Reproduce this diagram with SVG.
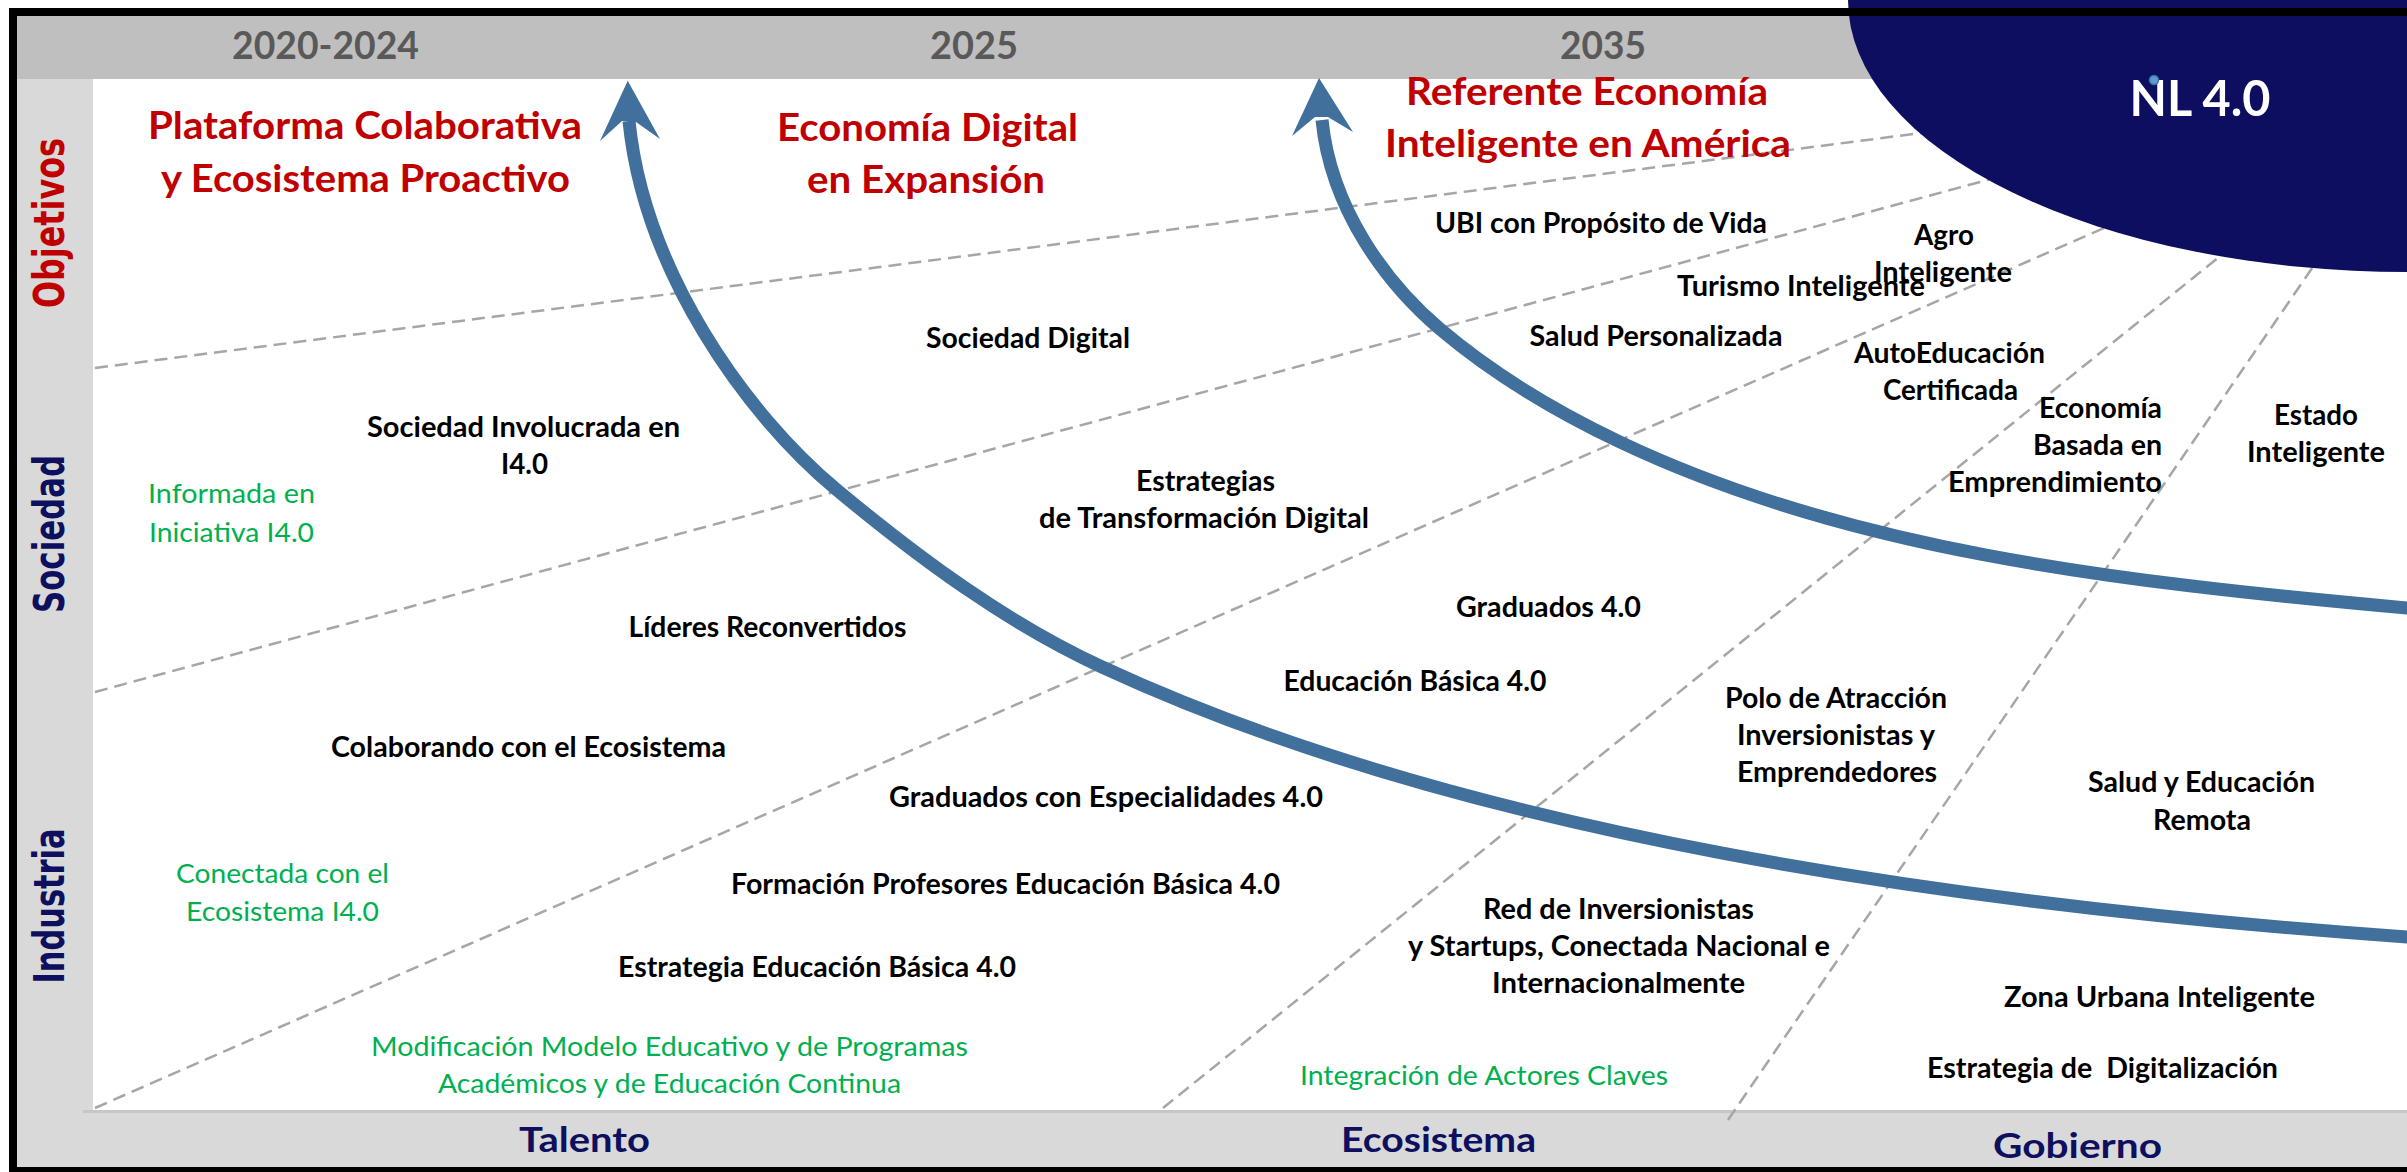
<svg xmlns="http://www.w3.org/2000/svg" width="2407" height="1172" viewBox="0 0 2407 1172">
<defs>
<style>
text{font-family:Lato,"Open Sans","Liberation Sans",sans-serif;}
.yr{font-size:38.3px;font-weight:700;fill:#595959;text-anchor:middle;}
.ttl{font-size:38.3px;font-weight:700;fill:#c00000;text-anchor:middle;}
.lbl{font-size:27.6px;font-weight:700;fill:#000;text-anchor:middle;}
.lbr{font-size:27.6px;font-weight:700;fill:#000;text-anchor:end;}
.grn{font-size:27.6px;font-weight:400;fill:#00b050;text-anchor:middle;}
.axis{font-size:35px;font-weight:700;fill:#0e0f5f;text-anchor:middle;}
.side{font-family:"DejaVu Sans",Verdana,sans-serif;font-size:42px;font-weight:700;text-anchor:middle;}
.grid line{stroke:#a6a6a6;stroke-width:2.5;stroke-dasharray:13 7;fill:none;}
.arc{fill:none;stroke:#41709c;stroke-width:13;}
.head{fill:#41709c;}
</style>
</defs>
<rect x="0" y="0" width="2407" height="1172" fill="#ffffff"/>
<g id="background">
<rect x="17" y="16" width="2390" height="63" fill="#bfbfbf"/>
<rect x="17" y="79" width="76" height="1090" fill="#d9d9d9"/>
<rect x="17" y="1110" width="2390" height="58" fill="#d9d9d9"/>
<line x1="83" y1="1111.5" x2="2407" y2="1111.5" stroke="#c6c6c6" stroke-width="3"/>
</g>
<g id="grid" class="grid">
<line x1="95" y1="368" x2="2100" y2="110"/>
<line x1="95" y1="692" x2="2150" y2="136"/>
<line x1="95" y1="1108" x2="2200" y2="186"/>
<line x1="1163" y1="1108" x2="2260" y2="224"/>
<line x1="1728" y1="1120" x2="2330" y2="242"/>
</g>
<g id="nl40">
<ellipse cx="2408" cy="0" rx="560" ry="272" fill="#0d0e5f"/>
<text x="2200" y="116" style="font-size:50px;font-weight:700;fill:#ffffff;text-anchor:middle" textLength="141" lengthAdjust="spacingAndGlyphs">NL 4.0</text>
<circle cx="2154" cy="80" r="4.5" fill="#5b9bd5" stroke="#41719c" stroke-width="1.5"/>
</g>
<g id="frame" fill="#000">
<rect x="9" y="8" width="2398" height="8"/>
<rect x="9" y="8" width="8" height="1164"/>
<rect x="9" y="1167" width="2398" height="5"/>
</g>
<g id="connectors">
<path class="arc" d="M2420,938 L2407,937 C1958.8,905.5 1464.8,835 1102,667 C1005.7,622.4 918.6,557.8 837,490 C744.6,413.2 644,270.3 629,121"/>
<polygon class="head" points="627.7,80.7 660,139 636,122 622,121 600,141"/>
<path class="arc" d="M2420,609 L2407,608 C2108.2,581 1845.8,549.3 1620,442 C1556.1,411.6 1494,374.8 1440,329 C1386.7,283.7 1331,209.6 1322,120"/>
<polygon class="head" points="1319,78 1353,132 1328,117 1315,117 1292,136"/>
</g>
<g id="years">
<text class="yr" x="325.5" y="59" textLength="187" lengthAdjust="spacingAndGlyphs">2020-2024</text>
<text class="yr" x="974" y="59" textLength="88" lengthAdjust="spacingAndGlyphs">2025</text>
<text class="yr" x="1603" y="59" textLength="86" lengthAdjust="spacingAndGlyphs">2035</text>
</g>
<g id="side-labels">
<text class="side" fill="#c00000" transform="translate(64,223) rotate(-90)" textLength="170" lengthAdjust="spacingAndGlyphs">Objetivos</text>
<text class="side" fill="#0e0f5f" transform="translate(64,534) rotate(-90)" textLength="158" lengthAdjust="spacingAndGlyphs">Sociedad</text>
<text class="side" fill="#0e0f5f" transform="translate(64,906) rotate(-90)" textLength="155" lengthAdjust="spacingAndGlyphs">Industria</text>
</g>
<g id="axis-labels">
<text class="axis" x="584.5" y="1152" textLength="131" lengthAdjust="spacingAndGlyphs">Talento</text>
<text class="axis" x="1438.5" y="1152" textLength="195" lengthAdjust="spacingAndGlyphs">Ecosistema</text>
<text class="axis" x="2077.5" y="1158" textLength="169" lengthAdjust="spacingAndGlyphs">Gobierno</text>
</g>
<g id="obj-plataforma">
<text class="ttl" x="365" y="139" textLength="434" lengthAdjust="spacingAndGlyphs">Plataforma Colaborativa</text>
<text class="ttl" x="365.5" y="192" textLength="409" lengthAdjust="spacingAndGlyphs">y Ecosistema Proactivo</text>
</g>
<g id="obj-economia">
<text class="ttl" x="927.5" y="141" textLength="301" lengthAdjust="spacingAndGlyphs">Economía Digital</text>
<text class="ttl" x="926" y="193" textLength="238" lengthAdjust="spacingAndGlyphs">en Expansión</text>
</g>
<g id="obj-referente">
<text class="ttl" x="1587" y="105" textLength="362" lengthAdjust="spacingAndGlyphs">Referente Economía</text>
<text class="ttl" x="1588" y="157" textLength="406" lengthAdjust="spacingAndGlyphs">Inteligente en América</text>
</g>
<g id="n-ubi"><text class="lbl" x="1601" y="233" textLength="332" lengthAdjust="spacingAndGlyphs">UBI con Propósito de Vida</text></g>
<g id="n-agro">
<text class="lbl" x="1944" y="245" textLength="60" lengthAdjust="spacingAndGlyphs">Agro</text>
<text class="lbl" x="1943" y="282" textLength="138" lengthAdjust="spacingAndGlyphs">Inteligente</text>
</g>
<g id="n-turismo"><text class="lbl" x="1801" y="296" textLength="248" lengthAdjust="spacingAndGlyphs">Turismo Inteligente</text></g>
<g id="n-salud-pers"><text class="lbl" x="1656" y="346" textLength="253" lengthAdjust="spacingAndGlyphs">Salud Personalizada</text></g>
<g id="n-autoeducacion">
<text class="lbl" x="1949.5" y="363" textLength="191" lengthAdjust="spacingAndGlyphs">AutoEducación</text>
<text class="lbl" x="1950.5" y="400" textLength="135" lengthAdjust="spacingAndGlyphs">Certificada</text>
</g>
<g id="n-economia-emp">
<text class="lbr" x="2162" y="418" textLength="123" lengthAdjust="spacingAndGlyphs">Economía</text>
<text class="lbr" x="2162" y="455" textLength="129" lengthAdjust="spacingAndGlyphs">Basada en</text>
<text class="lbr" x="2162" y="492" textLength="214" lengthAdjust="spacingAndGlyphs">Emprendimiento</text>
</g>
<g id="n-estado">
<text class="lbl" x="2316" y="425" textLength="84" lengthAdjust="spacingAndGlyphs">Estado</text>
<text class="lbl" x="2316" y="462" textLength="138" lengthAdjust="spacingAndGlyphs">Inteligente</text>
</g>
<g id="n-sociedad-digital"><text class="lbl" x="1028" y="348" textLength="204" lengthAdjust="spacingAndGlyphs">Sociedad Digital</text></g>
<g id="n-sociedad-inv">
<text class="lbl" x="523.5" y="437" textLength="313" lengthAdjust="spacingAndGlyphs">Sociedad Involucrada en</text>
<text class="lbl" x="524.5" y="474" textLength="47" lengthAdjust="spacingAndGlyphs">I4.0</text>
</g>
<g id="n-informada">
<text class="grn" x="231.5" y="503" textLength="167" lengthAdjust="spacingAndGlyphs">Informada en</text>
<text class="grn" x="231.5" y="542" textLength="165" lengthAdjust="spacingAndGlyphs">Iniciativa I4.0</text>
</g>
<g id="n-estrategias">
<text class="lbl" x="1205.5" y="491" textLength="139" lengthAdjust="spacingAndGlyphs">Estrategias</text>
<text class="lbl" x="1204" y="528" textLength="330" lengthAdjust="spacingAndGlyphs">de Transformación Digital</text>
</g>
<g id="n-lideres"><text class="lbl" x="767.5" y="637" textLength="278" lengthAdjust="spacingAndGlyphs">Líderes Reconvertidos</text></g>
<g id="n-graduados"><text class="lbl" x="1548.5" y="617" textLength="185" lengthAdjust="spacingAndGlyphs">Graduados 4.0</text></g>
<g id="n-educacion-basica"><text class="lbl" x="1415" y="691" textLength="263" lengthAdjust="spacingAndGlyphs">Educación Básica 4.0</text></g>
<g id="n-colaborando"><text class="lbl" x="528.5" y="757" textLength="395" lengthAdjust="spacingAndGlyphs">Colaborando con el Ecosistema</text></g>
<g id="n-polo">
<text class="lbl" x="1836" y="708" textLength="222" lengthAdjust="spacingAndGlyphs">Polo de Atracción</text>
<text class="lbl" x="1836" y="745" textLength="198" lengthAdjust="spacingAndGlyphs">Inversionistas y</text>
<text class="lbl" x="1837" y="782" textLength="200" lengthAdjust="spacingAndGlyphs">Emprendedores</text>
</g>
<g id="n-graduados-esp"><text class="lbl" x="1106" y="807" textLength="434" lengthAdjust="spacingAndGlyphs">Graduados con Especialidades 4.0</text></g>
<g id="n-salud-remota">
<text class="lbl" x="2201.5" y="792" textLength="227" lengthAdjust="spacingAndGlyphs">Salud y Educación</text>
<text class="lbl" x="2202" y="830" textLength="98" lengthAdjust="spacingAndGlyphs">Remota</text>
</g>
<g id="n-formacion"><text class="lbl" x="1005.5" y="894" textLength="549" lengthAdjust="spacingAndGlyphs">Formación Profesores Educación Básica 4.0</text></g>
<g id="n-conectada">
<text class="grn" x="282.5" y="883" textLength="213" lengthAdjust="spacingAndGlyphs">Conectada con el</text>
<text class="grn" x="282.5" y="921" textLength="193" lengthAdjust="spacingAndGlyphs">Ecosistema I4.0</text>
</g>
<g id="n-red">
<text class="lbl" x="1618.5" y="919" textLength="271" lengthAdjust="spacingAndGlyphs">Red de Inversionistas</text>
<text class="lbl" x="1619" y="956" textLength="422" lengthAdjust="spacingAndGlyphs">y Startups, Conectada Nacional e</text>
<text class="lbl" x="1618.5" y="993" textLength="253" lengthAdjust="spacingAndGlyphs">Internacionalmente</text>
</g>
<g id="n-zona"><text class="lbl" x="2159.5" y="1007" textLength="311" lengthAdjust="spacingAndGlyphs">Zona Urbana Inteligente</text></g>
<g id="n-estrategia-edu"><text class="lbl" x="817" y="977" textLength="398" lengthAdjust="spacingAndGlyphs">Estrategia Educación Básica 4.0</text></g>
<g id="n-estrategia-dig"><text class="lbl" x="2102.5" y="1078" textLength="351" lengthAdjust="spacingAndGlyphs" xml:space="preserve">Estrategia de  Digitalización</text></g>
<g id="n-integracion"><text class="grn" x="1484" y="1085" textLength="368" lengthAdjust="spacingAndGlyphs">Integración de Actores Claves</text></g>
<g id="n-modificacion">
<text class="grn" x="669.5" y="1056" textLength="597" lengthAdjust="spacingAndGlyphs">Modificación Modelo Educativo y de Programas</text>
<text class="grn" x="669.5" y="1093" textLength="463" lengthAdjust="spacingAndGlyphs">Académicos y de Educación Continua</text>
</g>
</svg>
